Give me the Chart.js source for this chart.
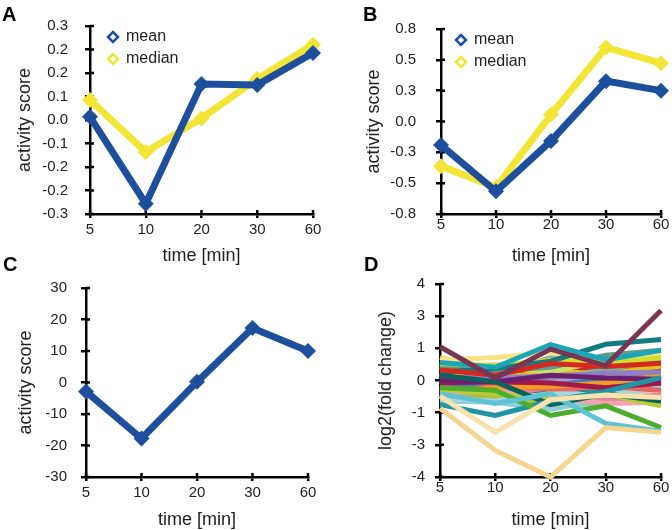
<!DOCTYPE html>
<html>
<head>
<meta charset="utf-8">
<script src="https://cdn.jsdelivr.net/npm/chart.js@4.4.1/dist/chart.umd.min.js"></script>
<style>
  body { margin: 0; background: #fff; width: 672px; height: 530px; position: relative; overflow: hidden; font-family: "Liberation Sans", Arial, sans-serif; }
  .panel { position: absolute; width: 336px; height: 265px; }
  .tag { position: absolute; font-size: 20px; font-weight: bold; color: #000; line-height: 20px; }
</style>
</head>
<body>
<div class="panel" style="left:0;top:0"><canvas id="chartA"></canvas></div>
<div class="panel" style="left:336px;top:0"><canvas id="chartB"></canvas></div>
<div class="panel" style="left:0;top:265px"><canvas id="chartC"></canvas></div>
<div class="panel" style="left:336px;top:265px"><canvas id="chartD"></canvas></div>
<div class="tag" style="left:2px;top:4px">A</div>
<div class="tag" style="left:363px;top:4px">B</div>
<div class="tag" style="left:3px;top:254px">C</div>
<div class="tag" style="left:364px;top:254px">D</div>
<script>
// ---- DATA ----
const times = ['5', '10', '20', '30', '60'];

// A: activity score (mean / median)
const meanA   = [0.010, -0.267, 0.115, 0.112, 0.214];
const medianA = [0.064, -0.102, 0.005, 0.131, 0.240];
const yTicksA = ['-0.3', '-0.2', '-0.2', '-0.1', '0.0', '0.1', '0.2', '0.2', '0.3'];

// B: activity score (mean / median)
const meanB   = [-0.204, -0.604, -0.168, 0.349, 0.267];
const medianB = [-0.386, -0.571, 0.060, 0.640, 0.504];
const yTicksB = ['-0.8', '-0.5', '-0.3', '0.0', '0.3', '0.5', '0.8'];

// C: activity score
const scoreC  = [-2.85, -17.8, 0.2, 17.3, 10.0];
const yTicksC = ['-30', '-20', '-10', '0', '10', '20', '30'];

// D: log2(fold change) per gene (first one is drawn on top)
const geneValuesD = [
  [1.40, 0.10, 1.30, 0.62, 2.90],
  [-1.15, -2.90, -4.00, -1.95, -2.15],
  [-0.65, -2.15, -0.80, -0.60, -0.70],
  [-0.55, -0.95, -0.55, -1.78, -2.10],
  [-0.30, -0.40, -1.45, -1.05, -1.95],
  [-1.00, -1.45, -0.85, -0.45, 0.12],
  [0.22, -0.05, -1.00, -0.55, -0.85],
  [0.45, 0.22, 0.70, 0.58, 0.72],
  [0.00, -0.05, 0.22, 0.10, 0.05],
  [-0.10, -0.05, -0.10, -0.30, -0.10],
  [0.75, 0.55, 1.49, 0.85, 1.25],
  [0.35, 0.50, 0.80, 1.50, 1.70],
  [0.15, 0.10, 0.20, 0.30, 0.35],
  [0.70, 0.60, 0.85, 0.70, 0.95],
  [-0.35, -0.55, -0.80, -0.55, -1.05],
  [-0.50, -0.45, -0.70, -0.95, -0.90],
  [0.85, 0.95, 1.15, 0.70, 1.05],
  [-0.45, -0.30, -0.25, -0.10, 0.20],
  [0.65, 0.40, 0.55, 1.05, 1.25],
  [0.25, -0.20, -0.35, -0.25, -0.40],
  [-0.75, -0.85, -0.55, -0.60, -0.30],
  [0.50, 0.60, 0.35, 0.85, 0.95],
  [0.00, -0.35, -0.20, 0.05, -0.20],
  [0.30, 0.05, 0.40, 0.25, 0.60],
  [-0.20, 0.00, 0.15, 0.30, 0.05],
  [-0.40, -0.55, -0.30, -0.80, -0.60],
  [0.65, 0.30, 0.10, 0.45, 0.85],
  [-0.60, -0.70, -0.95, -0.65, -0.80],
  [0.10, 0.30, 0.55, 0.40, 0.45],
  [-0.30, -0.60, -0.80, -0.70, -0.55],
  [0.80, 0.55, 0.70, 0.95, 0.65],
  [0.15, -0.25, -0.60, -0.40, -0.35],
  [-0.25, -0.20, -0.60, -0.50, -0.75],
  [0.25, 0.00, -0.05, 0.20, 0.30],
  [-0.15, 0.10, -0.40, -0.20, -0.25],
  [0.55, 0.20, 0.95, 0.75, 0.50],
  [0.75, 0.35, 0.05, -0.15, -0.45],
  [0.60, 0.65, 0.75, 0.35, 0.15],
  [-0.05, -0.35, -0.45, -0.20, -0.30],
  [0.95, 0.45, 0.60, 0.55, 0.80],
  [-0.85, -0.90, -1.20, -0.75, -0.60],
  [0.40, 0.15, -0.20, 0.05, 0.25],
  [-0.70, -0.30, -0.10, -0.45, -0.50],
  [0.05, -0.45, -0.70, -0.35, 0.00],
  [0.35, 0.25, 0.30, 0.60, 0.55],
  [-0.45, -0.75, -0.45, -0.30, -0.70],
  [0.55, 0.05, 0.25, -0.05, 0.40],
  [-0.20, -0.65, -1.10, -0.90, -0.45],
  [0.20, 0.40, 0.45, 0.15, -0.10]
];
const geneColorsD = [
  '#7a3456', '#f6d58e', '#f8e2ad', '#5fc3d3', '#4cad2f', '#1f95a6', '#0e615e', '#d5281f',
  '#6b1f6f', '#a3184b', '#1aa6b6', '#137c80', '#8d80c6', '#cfdd2b', '#b6cf30', '#f2a4ab',
  '#f7e384', '#f39c1f', '#5f9c90', '#e8665f', '#a4d6e0', '#c6e06a', '#3c82b8', '#e6c21a',
  '#9b6cb2', '#e483a2', '#6ab8a6', '#a8c23a', '#c9302c', '#f6c1c4', '#f0d92c', '#2d8f8a',
  '#3d9a3a', '#b49ad0', '#f08070', '#7fa7c0', '#74cddb', '#f1c98a', '#d9697f', '#e8d84a',
  '#8fcfd8', '#f4a261', '#9fd06a', '#5aa9c4', '#e25d5d', '#c3b8e0', '#f7c948', '#88c9a1',
  '#d4e157'
];
const yTicksD = ['-4', '-3', '-1', '0', '1', '3', '4'];

const BLUE = '#1e4f9c';
const YELLOW = '#f3e535';
const FONT = '"Liberation Sans", Arial, sans-serif';
const TEXT = '#222';

// ---- PLUGINS ----
// short tick marks pointing into the plot area
const innerTicks = {
  id: 'innerTicks',
  beforeDatasetsDraw(chart) {
    const { ctx, chartArea, scales: { x, y } } = chart;
    ctx.save();
    ctx.strokeStyle = '#000';
    ctx.lineWidth = 2.5;
    ctx.beginPath();
    x.ticks.forEach((t, i) => {
      const px = x.getPixelForTick(i);
      ctx.moveTo(px, chartArea.bottom);
      ctx.lineTo(px, chartArea.bottom - 4);
    });
    y.ticks.forEach((t, i) => {
      const py = y.getPixelForTick(i);
      ctx.moveTo(chartArea.left, py);
      ctx.lineTo(chartArea.left + 4, py);
    });
    ctx.stroke();
    ctx.restore();
  }
};

// hollow diamond legend inside the plot
const insetLegend = {
  id: 'insetLegend',
  afterDatasetsDraw(chart, args, opts) {
    if (!opts.show) return;
    const { ctx, chartArea } = chart;
    ctx.save();
    ctx.font = '16px ' + FONT;
    ctx.textBaseline = 'middle';
    chart.data.datasets.forEach((ds, i) => {
      const cx = chartArea.left + opts.dx;
      const cy = chartArea.top + opts.dy + i * opts.gap;
      ctx.beginPath();
      ctx.moveTo(cx, cy - 5);
      ctx.lineTo(cx + 5, cy);
      ctx.lineTo(cx, cy + 5);
      ctx.lineTo(cx - 5, cy);
      ctx.closePath();
      ctx.fillStyle = '#fff';
      ctx.fill();
      ctx.lineWidth = 2.5;
      ctx.strokeStyle = ds.borderColor;
      ctx.stroke();
      ctx.fillStyle = TEXT;
      ctx.fillText(ds.label, cx + 13, cy);
    });
    ctx.restore();
  }
};

function diamondSeries(label, data, color) {
  return {
    label, data,
    borderColor: color, backgroundColor: color,
    borderWidth: 7, pointStyle: 'rectRot', pointRadius: 8,
    pointBorderWidth: 0, pointBackgroundColor: color,
    tension: 0, clip: false
  };
}

function makePanel(id, p) {
  const ticks = p.yLabels;
  return new Chart(document.getElementById(id), {
    type: 'line',
    data: { labels: times, datasets: p.datasets },
    plugins: [innerTicks, insetLegend],
    options: {
      responsive: true,
      maintainAspectRatio: false,
      animation: false,
      events: [],
      layout: { padding: { left: 0, top: p.top, right: p.right, bottom: 0 } },
      plugins: {
        legend: { display: false },
        tooltip: { enabled: false },
        insetLegend: p.legend || { show: false }
      },
      scales: {
        x: {
          type: 'category',
          offset: false,
          border: { color: '#000', width: 2.5 },
          grid: { drawOnChartArea: false, drawTicks: true, tickLength: 4, color: '#000', lineWidth: 2.5 },
          ticks: { color: TEXT, font: { family: FONT, size: 15 }, padding: p.xTickPad, maxRotation: 0 },
          title: { display: true, text: 'time [min]', color: TEXT, font: { family: FONT, size: 18, lineHeight: 1 }, padding: { top: 0, bottom: p.xTitlePad } },
          afterFit: s => { s.height = p.xHeight; }
        },
        y: {
          min: p.yMin, max: p.yMax,
          border: { color: '#000', width: 2.5 },
          grid: { drawOnChartArea: false, drawTicks: true, tickLength: 5, color: '#000', lineWidth: 2.5 },
          afterBuildTicks: s => {
            const n = ticks.length - 1;
            s.ticks = ticks.map((t, i) => ({ value: p.yMin + (p.yMax - p.yMin) * i / n }));
          },
          ticks: { color: TEXT, font: { family: FONT, size: 15 }, padding: p.yTickPad, autoSkip: false, callback: (v, i) => ticks[i] },
          title: { display: true, text: p.yTitle, color: TEXT, font: { family: FONT, size: 18, lineHeight: 1 }, padding: { top: p.yTitlePad, bottom: 0 } },
          afterFit: s => { s.width = p.yWidth; }
        }
      }
    }
  });
}

// ---- RENDER ----
makePanel('chartA', {
  datasets: [diamondSeries('mean', meanA, BLUE), diamondSeries('median', medianA, YELLOW)],
  yMin: -0.3, yMax: 0.3, yLabels: yTicksA, yTitle: 'activity score',
  top: 18, right: 23, yWidth: 90, yTitlePad: 16, yTickPad: 17,
  xHeight: 51, xTickPad: 3, xTitlePad: 0,
  legend: { show: true, dx: 23, dy: 11, gap: 22 }
});

makePanel('chartB', {
  datasets: [diamondSeries('mean', meanB, BLUE), diamondSeries('median', medianB, YELLOW)],
  yMin: -0.8, yMax: 0.8, yLabels: yTicksB, yTitle: 'activity score',
  top: 18, right: 11, yWidth: 105, yTitlePad: 29, yTickPad: 20,
  xHeight: 51, xTickPad: -2, xTitlePad: 0,
  legend: { show: true, dx: 20, dy: 11, gap: 22 }
});

makePanel('chartC', {
  datasets: [diamondSeries('score', scoreC, BLUE)],
  yMin: -30, yMax: 30, yLabels: yTicksC, yTitle: 'activity score',
  top: 15, right: 28, yWidth: 86, yTitlePad: 17, yTickPad: 14,
  xHeight: 53, xTickPad: 3, xTitlePad: 1
});

makePanel('chartD', {
  datasets: geneValuesD.map((vals, i) => ({
    label: 'gene ' + (i + 1),
    data: vals,
    borderColor: geneColorsD[i],
    borderWidth: 5,
    pointRadius: 0,
    tension: 0,
    clip: false
  })),
  yMin: -4, yMax: 4, yLabels: yTicksD, yTitle: 'log2(fold change)',
  top: 14, right: 11, yWidth: 104, yTitlePad: 41, yTickPad: 10,
  xHeight: 53, xTickPad: -2, xTitlePad: 1
});
</script>
</body>
</html>
